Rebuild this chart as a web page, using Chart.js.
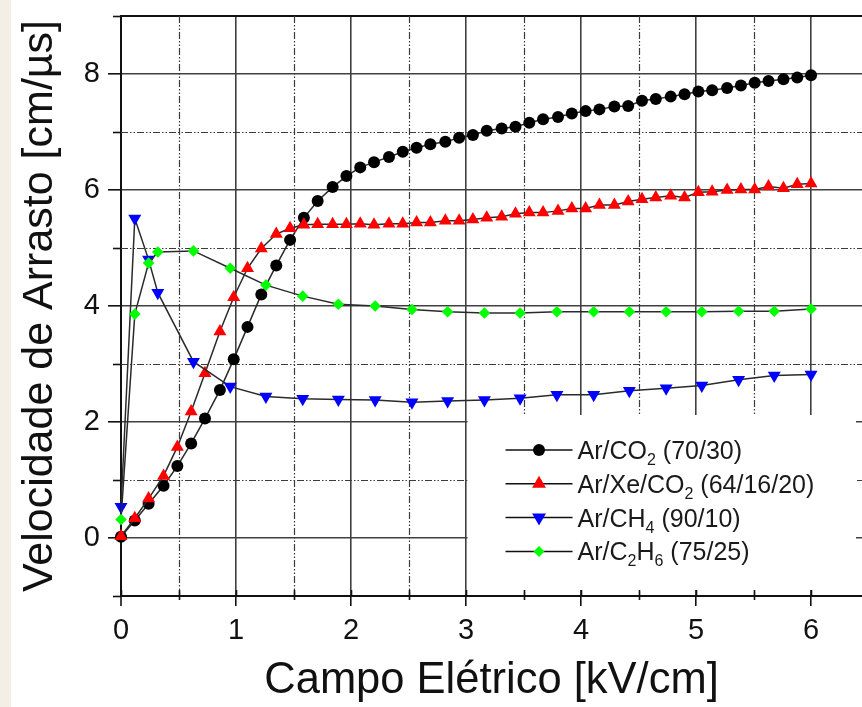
<!DOCTYPE html>
<html><head><meta charset="utf-8">
<script src="https://cdn.jsdelivr.net/npm/chart.js@4.4.0/dist/chart.umd.min.js"></script>
<style>html,body{margin:0;padding:0;background:#fff;}canvas{display:block;}</style>
</head><body>
<canvas id="c" width="862" height="707"></canvas>
<script>
// ---- data ----
const fieldA = [0, 0.12, 0.24, 0.37, 0.49, 0.61, 0.73, 0.86, 0.98, 1.10, 1.22, 1.35, 1.47, 1.59, 1.71, 1.84, 1.96, 2.08, 2.20, 2.33, 2.45, 2.57, 2.69, 2.82, 2.94, 3.06, 3.18, 3.31, 3.43, 3.55, 3.67, 3.80, 3.92, 4.04, 4.16, 4.29, 4.41, 4.53, 4.65, 4.78, 4.90, 5.02, 5.14, 5.27, 5.39, 5.51, 5.63, 5.76, 5.88, 6.00];
const arCO2 = [0.02, 0.30, 0.59, 0.90, 1.24, 1.63, 2.06, 2.55, 3.08, 3.64, 4.20, 4.70, 5.14, 5.52, 5.81, 6.05, 6.24, 6.39, 6.48, 6.57, 6.66, 6.73, 6.79, 6.83, 6.90, 6.95, 7.02, 7.06, 7.09, 7.16, 7.22, 7.26, 7.32, 7.36, 7.39, 7.44, 7.45, 7.54, 7.57, 7.61, 7.65, 7.70, 7.72, 7.76, 7.80, 7.85, 7.88, 7.91, 7.94, 7.98];
const arXeCO2 = [0.03, 0.34, 0.68, 1.07, 1.57, 2.18, 2.84, 3.56, 4.15, 4.65, 4.99, 5.24, 5.34, 5.40, 5.41, 5.41, 5.41, 5.42, 5.40, 5.42, 5.42, 5.44, 5.44, 5.47, 5.47, 5.49, 5.52, 5.54, 5.59, 5.61, 5.61, 5.64, 5.68, 5.68, 5.74, 5.74, 5.80, 5.84, 5.87, 5.90, 5.87, 5.96, 5.97, 6.00, 6.01, 6.01, 6.06, 6.03, 6.10, 6.11];
const fieldB = [0, 0.12, 0.24, 0.32, 0.63, 0.95, 1.26, 1.58, 1.89, 2.21, 2.53, 2.84, 3.16, 3.47, 3.79, 4.11, 4.42, 4.74, 5.05, 5.37, 5.68, 6.00];
const arCH4 = [0.54, 5.51, 4.80, 4.23, 3.04, 2.61, 2.44, 2.40, 2.39, 2.38, 2.34, 2.36, 2.38, 2.41, 2.47, 2.47, 2.54, 2.58, 2.63, 2.73, 2.80, 2.82];
const arC2H6 = [0.32, 3.86, 4.74, 4.93, 4.95, 4.65, 4.36, 4.17, 4.03, 4.00, 3.94, 3.90, 3.88, 3.88, 3.90, 3.90, 3.90, 3.90, 3.90, 3.91, 3.91, 3.95];

const xTicks = [0, 0.5, 1, 1.5, 2, 2.5, 3, 3.5, 4, 4.5, 5, 5.5, 6];
const yTicks = [-1, 0, 1, 2, 3, 4, 5, 6, 7, 8, 9];
const xLabels = ['0', '1', '2', '3', '4', '5', '6'];
const yLabels = ['0', '2', '4', '6', '8'];
const xTitle = 'Campo Elétrico [kV/cm]';
const yTitle = 'Velocidade de Arrasto [cm/µs]';

// legend entries: [text, isSubscript]
const legendRows = [
  { parts: [['Ar/CO', 0], ['2', 1], [' (70/30)', 0]], style: 'circle', color: '#000000' },
  { parts: [['Ar/Xe/CO', 0], ['2', 1], [' (64/16/20)', 0]], style: 'tri', color: '#ff0000' },
  { parts: [['Ar/CH', 0], ['4', 1], [' (90/10)', 0]], style: 'triDown', color: '#0000ff' },
  { parts: [['Ar/C', 0], ['2', 1], ['H', 0], ['6', 1], [' (75/25)', 0]], style: 'diamond', color: '#00ff00' }
];

const FONT = "'Liberation Sans', Arial, Helvetica, sans-serif";
const TR = 'rgba(0,0,0,0)';
const pts = (xs, ys) => xs.map((x, i) => ({ x: x, y: ys[i] }));

function marker(ctx, style, x, y, color) {
  ctx.save();
  ctx.fillStyle = color;
  ctx.beginPath();
  if (style === 'circle') { ctx.arc(x, y, 6, 0, Math.PI * 2); }
  else if (style === 'tri') { const r = 8; ctx.moveTo(x, y - r); ctx.lineTo(x + r * 0.866, y + r / 2); ctx.lineTo(x - r * 0.866, y + r / 2); ctx.closePath(); }
  else if (style === 'triDown') { const r = 8; ctx.moveTo(x, y + r); ctx.lineTo(x + r * 0.866, y - r / 2); ctx.lineTo(x - r * 0.866, y - r / 2); ctx.closePath(); }
  else { const r = 5.5; ctx.moveTo(x - r, y); ctx.lineTo(x, y - r); ctx.lineTo(x + r, y); ctx.lineTo(x, y + r); ctx.closePath(); }
  ctx.fill();
  ctx.restore();
}

function legendBox(chart) {
  const a = chart.chartArea, xs = chart.scales.x, ys = chart.scales.y;
  return { left: xs.getPixelForValue(3) + 1.5, top: ys.getPixelForValue(2) - 7, right: a.right - 6, bottom: a.bottom - 6 };
}

const deco = {
  id: 'deco',
  beforeDraw(chart) {
    const ctx = chart.ctx;
    ctx.save();
    ctx.fillStyle = '#ffffff'; ctx.fillRect(0, 0, chart.width, chart.height);
    ctx.fillStyle = '#f4efe6'; ctx.fillRect(0, 0, 11, chart.height);
    ctx.restore();
  },
  beforeDatasetsDraw(chart) {
    const ctx = chart.ctx, a = chart.chartArea, xs = chart.scales.x, ys = chart.scales.y;
    ctx.save();
    // minor dash-dot grid
    ctx.strokeStyle = '#3c3c3c'; ctx.lineWidth = 1.2;
    ctx.setLineDash([7, 2, 1.5, 2, 1.5, 2]);
    xTicks.filter(v => !Number.isInteger(v)).forEach(v => {
      const px = Math.round(xs.getPixelForValue(v)) + 0.5;
      ctx.beginPath(); ctx.moveTo(px, a.top); ctx.lineTo(px, a.bottom); ctx.stroke();
    });
    yTicks.filter(v => Math.abs(v % 2) === 1 && v > -1 && v < 9).forEach(v => {
      const py = Math.round(ys.getPixelForValue(v)) + 0.5;
      ctx.beginPath(); ctx.moveTo(a.left, py); ctx.lineTo(a.right, py); ctx.stroke();
    });
    ctx.setLineDash([]);
    // legend background
    const b = legendBox(chart);
    ctx.fillStyle = '#ffffff';
    ctx.fillRect(b.left, b.top, b.right - b.left, b.bottom - b.top);
    // minor ticks and inner major ticks
    ctx.strokeStyle = '#111'; ctx.lineWidth = 1.6;
    xTicks.forEach(v => {
      const px = Math.round(xs.getPixelForValue(v)) + 0.5;
      ctx.beginPath();
      if (Number.isInteger(v)) { ctx.moveTo(px, a.bottom - 6); ctx.lineTo(px, a.bottom); }
      else { ctx.moveTo(px, a.bottom - 6); ctx.lineTo(px, a.bottom + 4); }
      ctx.stroke();
    });
    yTicks.forEach(v => {
      const py = Math.round(ys.getPixelForValue(v)) + 0.5;
      if (Math.abs(v % 2) === 1) {
        ctx.beginPath(); ctx.moveTo(a.left - 8, py); ctx.lineTo(a.left, py); ctx.stroke();
      }
    });
    ctx.restore();
  },
  afterDatasetsDraw(chart) {
    const ctx = chart.ctx, b = legendBox(chart);
    ctx.save();
    legendRows.forEach((row, i) => {
      const cy = b.top + 35 + i * 33.8;
      ctx.strokeStyle = '#111'; ctx.lineWidth = 1.5;
      ctx.beginPath(); ctx.moveTo(b.left + 38, cy); ctx.lineTo(b.left + 105, cy); ctx.stroke();
      marker(ctx, row.style, b.left + 71.5, cy, row.color);
      let tx = b.left + 110;
      const base = cy + 9;
      ctx.fillStyle = '#1a1a1a'; ctx.textBaseline = 'alphabetic'; ctx.textAlign = 'left';
      row.parts.forEach(p => {
        if (p[1]) { ctx.font = '16px ' + FONT; ctx.fillText(p[0], tx, base + 6); }
        else { ctx.font = '25px ' + FONT; ctx.fillText(p[0], tx, base); }
        tx += ctx.measureText(p[0]).width;
      });
    });
    ctx.restore();
  }
};

const common = { showLine: true, borderColor: '#2a2a2a', borderWidth: 1.5, pointBorderWidth: 0, tension: 0, clip: false };

new Chart(document.getElementById('c'), {
  type: 'scatter',
  data: {
    datasets: [
      Object.assign({}, common, { label: 'Ar/CO2 (70/30)', data: pts(fieldA, arCO2), pointStyle: 'circle', pointRadius: 6, pointBackgroundColor: '#000000', pointBorderColor: '#000000', order: 4 }),
      Object.assign({}, common, { label: 'Ar/Xe/CO2 (64/16/20)', data: pts(fieldA, arXeCO2), pointStyle: 'triangle', pointRadius: 7.5, pointBackgroundColor: '#ff0000', pointBorderColor: '#ff0000', order: 3 }),
      Object.assign({}, common, { label: 'Ar/CH4 (90/10)', data: pts(fieldB, arCH4), pointStyle: 'triangle', pointRotation: 180, pointRadius: 7.5, pointBackgroundColor: '#0000ff', pointBorderColor: '#0000ff', order: 2 }),
      Object.assign({}, common, { label: 'Ar/C2H6 (75/25)', data: pts(fieldB, arC2H6), pointStyle: 'rectRot', pointRadius: 5.8, pointBackgroundColor: '#00ff00', pointBorderColor: '#00ff00', order: 1 })
    ]
  },
  options: {
    responsive: false, animation: false, devicePixelRatio: 1,
    layout: { autoPadding: false, padding: { top: 16, right: 0, left: 0, bottom: 0 } },
    plugins: { legend: { display: false }, tooltip: { enabled: false } },
    scales: {
      x: {
        type: 'linear', min: 0, max: 6.443,
        afterBuildTicks: s => { s.ticks = xTicks.map(v => ({ value: v })); },
        afterFit: s => { s.height = 111; s.paddingLeft = 0; s.paddingRight = 0; s.paddingTop = 0; s.paddingBottom = 0; },
        ticks: { autoSkip: false, maxRotation: 0, padding: 8, color: '#111', font: { family: FONT, size: 29 },
          callback: v => xLabels.includes(String(v)) ? String(v) : '' },
        grid: {
          color: c => { const v = c.tick ? c.tick.value : null; if (v === 0) return '#111'; return Number.isInteger(v) ? '#404040' : TR; },
          lineWidth: c => (c.tick && c.tick.value === 0) ? 2 : 1.6,
          tickColor: c => (c.tick && Number.isInteger(c.tick.value)) ? '#111' : TR,
          tickLength: 10, tickWidth: 1.6
        },
        border: { color: '#111', width: 2 },
        title: { display: true, text: xTitle, color: '#111', font: { family: FONT, size: 43.5 }, padding: { top: 0, bottom: 0 } }
      },
      y: {
        type: 'linear', min: -1, max: 9,
        afterBuildTicks: s => { s.ticks = yTicks.map(v => ({ value: v })); },
        afterFit: s => { s.width = 121; s.paddingLeft = 0; s.paddingRight = 0; s.paddingTop = 0; s.paddingBottom = 0; },
        ticks: { autoSkip: false, padding: 8, color: '#111', font: { family: FONT, size: 29 },
          callback: v => yLabels.includes(String(v)) ? String(v) : '' },
        grid: {
          color: c => { const v = c.tick ? c.tick.value : null; if (v === 9 || v === -1) return '#111'; return (v % 2 === 0) ? '#404040' : TR; },
          lineWidth: c => (c.tick && (c.tick.value === 9 || c.tick.value === -1)) ? 2 : 1.6,
          tickColor: c => (c.tick && c.tick.value % 2 === 0) ? '#111' : TR,
          tickLength: 13, tickWidth: 1.6
        },
        border: { color: '#111', width: 2 },
        title: { display: true, text: yTitle, color: '#111', font: { family: FONT, size: 43 }, padding: { top: 14, bottom: 0 } }
      }
    }
  },
  plugins: [deco]
});
</script>
</body></html>
